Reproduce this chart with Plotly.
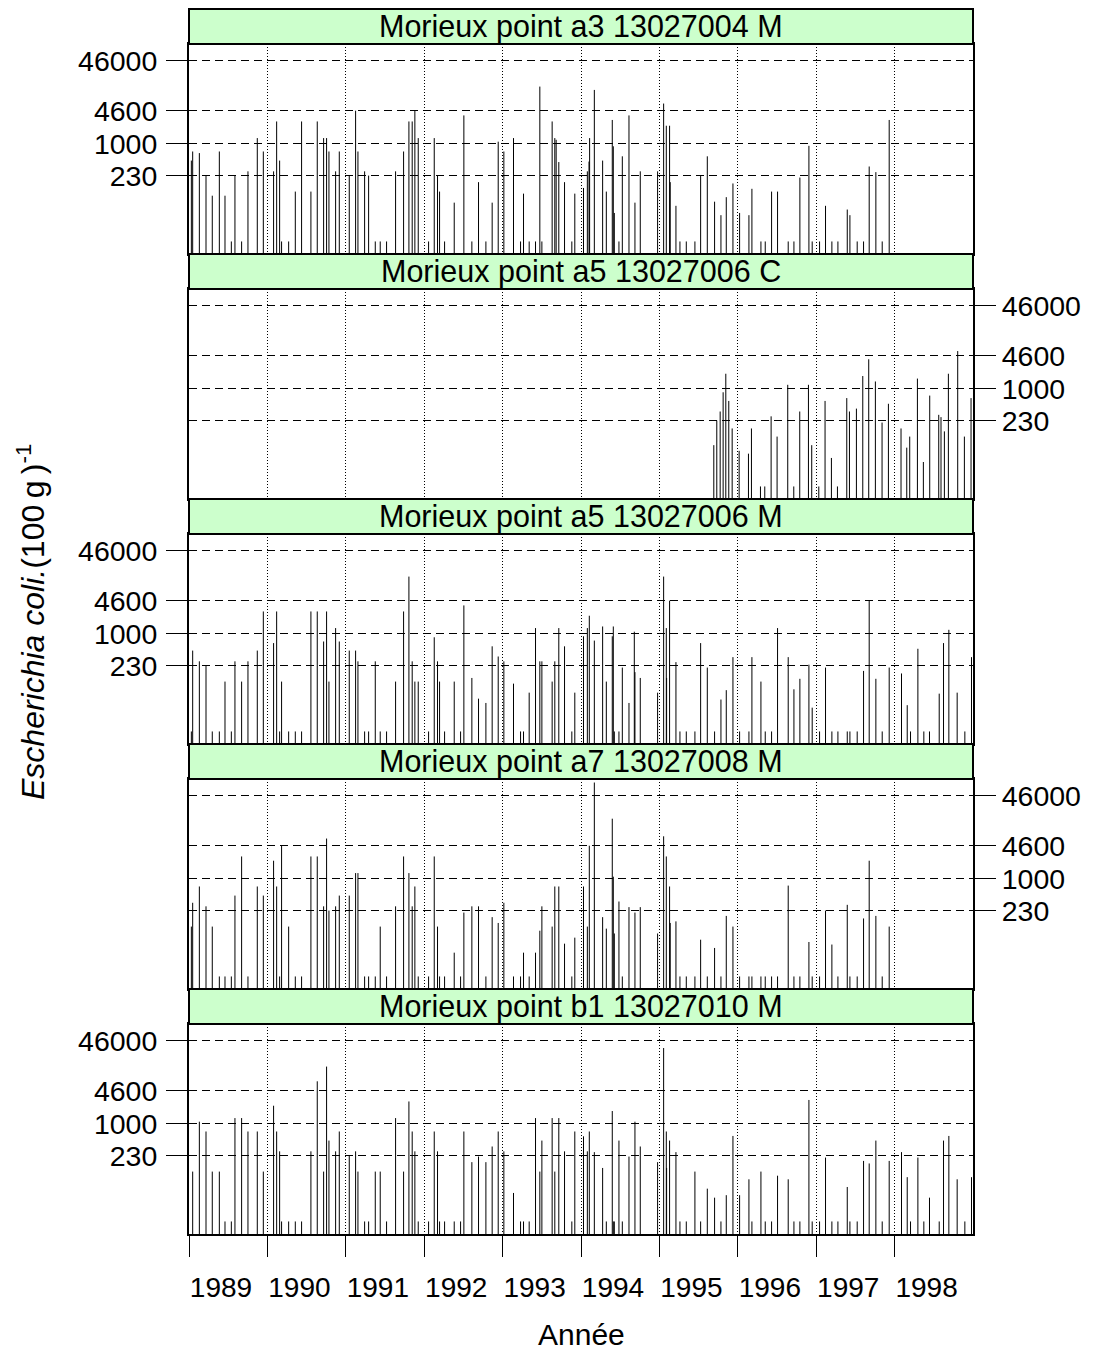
import plotly.graph_objects as go

FONT = "Liberation Sans, Arial, sans-serif"

panel_titles = [
    "Morieux point a3 13027004 M",
    "Morieux point a5 13027006 C",
    "Morieux point a5 13027006 M",
    "Morieux point a7 13027008 M",
    "Morieux point b1 13027010 M",
]
ytick_vals = [230, 1000, 4600, 46000]
ytick_text = ["230", "1000", "4600", "46000"]
year_ticks = list(range(1989, 1999))
year_labels = [str(y) for y in year_ticks]

# ---- panel 1 : a3 M ----
dates_a3_M = [
    1989.030, 1989.047, 1989.132, 1989.217, 1989.297, 1989.387, 1989.459, 1989.540, 1989.586, 1989.671, 1989.752, 1989.871, 1989.948,
    1990.079, 1990.118, 1990.156, 1990.181, 1990.271, 1990.356, 1990.436, 1990.555, 1990.636, 1990.717, 1990.755, 1990.785, 1990.870, 1990.917,
    1991.044, 1991.125, 1991.155, 1991.240, 1991.291, 1991.376, 1991.439, 1991.520, 1991.635, 1991.737, 1991.805, 1991.847, 1991.881, 1991.924,
    1992.056, 1992.128, 1992.170, 1992.196, 1992.260, 1992.383, 1992.506, 1992.608, 1992.693, 1992.787, 1992.867, 1992.944,
    1993.016, 1993.139, 1993.229, 1993.267, 1993.339, 1993.420, 1993.475, 1993.501, 1993.632, 1993.666, 1993.683, 1993.717, 1993.790, 1993.883, 1993.921,
    1994.032, 1994.081, 1994.102, 1994.110, 1994.170, 1994.276, 1994.323, 1994.399, 1994.412, 1994.425, 1994.484, 1994.527, 1994.612, 1994.688, 1994.756, 1994.977,
    1995.054, 1995.088, 1995.130, 1995.138, 1995.211, 1995.262, 1995.343, 1995.453, 1995.526, 1995.611, 1995.704, 1995.785, 1995.853, 1995.938,
    1996.023, 1996.142, 1996.180, 1996.295, 1996.350, 1996.431, 1996.507, 1996.643, 1996.716, 1996.792, 1996.907, 1996.949,
    1997.043, 1997.119, 1997.200, 1997.277, 1997.396, 1997.430, 1997.523, 1997.604, 1997.676, 1997.761, 1997.842, 1997.931,
]
ecoli_a3_M = [
    460, 700, 650, 230, 91, 700, 91, 11, 230, 11, 280, 1300, 700,
    280, 2800, 460, 11, 11, 110, 2800, 110, 2800, 1300, 1300, 700, 280, 700,
    230, 4600, 700, 280, 230, 11, 11, 11, 280, 700, 2800, 2800, 4600, 1300,
    11, 1300, 230, 110, 11, 66, 3700, 11, 170, 11, 66, 1100,
    700, 1300, 11, 100, 11, 11, 14000, 11, 2800, 1300, 1200, 430, 170, 11, 100,
    130, 280, 440, 1300, 12000, 460, 110, 3000, 890, 41, 11, 560, 3700, 66, 280, 280,
    6400, 2300, 2300, 170, 57, 11, 11, 11, 230, 560, 69, 37, 85, 160,
    41, 37, 125, 11, 11, 110, 110, 11, 11, 210, 910, 11,
    11, 57, 11, 11, 48, 37, 11, 11, 350, 270, 11, 3000,
]

# ---- panel 2 : a5 C ----
dates_a5_C = [
    1995.694, 1995.732, 1995.775, 1995.813, 1995.847, 1995.885, 1995.928,
    1996.017, 1996.136, 1996.174, 1996.289, 1996.344, 1996.425, 1996.501, 1996.637, 1996.714, 1996.790, 1996.901, 1996.943,
    1997.033, 1997.113, 1997.194, 1997.271, 1997.390, 1997.424, 1997.513, 1997.594, 1997.670, 1997.755, 1997.840, 1997.921,
    1998.082, 1998.155, 1998.193, 1998.291, 1998.367, 1998.448, 1998.563, 1998.592, 1998.635, 1998.686, 1998.805, 1998.890, 1998.975,
]
ecoli_a5_C = [
    74, 230, 350, 850, 2000, 570, 160,
    57, 50, 160, 11, 11, 280, 110, 1200, 11, 350, 1200, 74,
    11, 570, 41, 11, 650, 350, 400, 1800, 3900, 1400, 210, 500,
    160, 66, 110, 1600, 34, 730, 300, 270, 140, 2000, 5700, 110, 650,
]

# ---- panel 3 : a5 M ----
dates_a5_M = [
    1989.030, 1989.047, 1989.132, 1989.217, 1989.297, 1989.387, 1989.459, 1989.540, 1989.586, 1989.671, 1989.752, 1989.871, 1989.948,
    1990.079, 1990.118, 1990.156, 1990.181, 1990.271, 1990.356, 1990.436, 1990.555, 1990.636, 1990.717, 1990.755, 1990.785, 1990.870, 1990.917,
    1991.044, 1991.125, 1991.155, 1991.240, 1991.291, 1991.376, 1991.439, 1991.520, 1991.635, 1991.737, 1991.805, 1991.847, 1991.881, 1991.924,
    1992.056, 1992.128, 1992.170, 1992.196, 1992.260, 1992.383, 1992.464, 1992.506, 1992.608, 1992.693, 1992.787, 1992.867, 1992.944,
    1993.016, 1993.139, 1993.229, 1993.267, 1993.339, 1993.420, 1993.475, 1993.501, 1993.632, 1993.666, 1993.717, 1993.790, 1993.883, 1993.921,
    1994.032, 1994.081, 1994.106, 1994.170, 1994.276, 1994.323, 1994.399, 1994.412, 1994.425, 1994.484, 1994.527, 1994.612, 1994.680, 1994.688, 1994.756, 1994.977,
    1995.054, 1995.088, 1995.092, 1995.130, 1995.211, 1995.262, 1995.343, 1995.453, 1995.526, 1995.611, 1995.704, 1995.785, 1995.853, 1995.938,
    1996.023, 1996.142, 1996.180, 1996.295, 1996.350, 1996.431, 1996.507, 1996.643, 1996.716, 1996.792, 1996.907, 1996.949,
    1997.043, 1997.119, 1997.200, 1997.277, 1997.396, 1997.430, 1997.523, 1997.604, 1997.676, 1997.761, 1997.842, 1997.931,
    1998.088, 1998.161, 1998.203, 1998.297, 1998.373, 1998.445, 1998.569, 1998.624, 1998.692, 1998.798, 1998.896, 1998.981,
]
ecoli_a5_M = [
    11, 460, 280, 230, 11, 11, 110, 11, 280, 110, 280, 460, 2800,
    650, 2800, 11, 110, 11, 11, 11, 2800, 2800, 700, 2800, 110, 1300, 700,
    460, 460, 280, 11, 11, 280, 11, 11, 110, 2800, 14000, 280, 110, 110,
    11, 850, 280, 110, 11, 110, 11, 3700, 130, 50, 41, 560, 350,
    280, 100, 11, 11, 66, 1300, 280, 280, 110, 280, 1300, 560, 11, 66,
    890, 1300, 2300, 730, 1400, 110, 890, 1400, 11, 11, 210, 41, 1100, 170, 130, 66,
    14000, 1300, 130, 4600, 270, 11, 11, 11, 650, 210, 11, 48, 74, 340,
    11, 11, 340, 110, 11, 11, 1300, 340, 77, 125, 240, 33,
    11, 210, 11, 11, 11, 11, 11, 180, 4600, 125, 11, 210,
    160, 37, 11, 500, 11, 11, 63, 650, 1200, 66, 11, 340,
]

# ---- panel 4 : a7 M ----
dates_a7_M = [
    1989.030, 1989.047, 1989.132, 1989.217, 1989.297, 1989.387, 1989.459, 1989.540, 1989.586, 1989.671, 1989.752, 1989.871, 1989.948,
    1990.079, 1990.118, 1990.156, 1990.181, 1990.271, 1990.356, 1990.436, 1990.555, 1990.636, 1990.717, 1990.755, 1990.785, 1990.870, 1990.917,
    1991.044, 1991.125, 1991.155, 1991.240, 1991.291, 1991.376, 1991.439, 1991.520, 1991.635, 1991.737, 1991.805, 1991.847, 1991.881, 1991.924,
    1992.056, 1992.128, 1992.170, 1992.196, 1992.260, 1992.383, 1992.464, 1992.506, 1992.608, 1992.693, 1992.787, 1992.867, 1992.944,
    1993.016, 1993.139, 1993.229, 1993.267, 1993.339, 1993.420, 1993.475, 1993.501, 1993.632, 1993.666, 1993.717, 1993.790, 1993.883, 1993.921,
    1994.032, 1994.081, 1994.106, 1994.170, 1994.276, 1994.323, 1994.399, 1994.412, 1994.425, 1994.484, 1994.527, 1994.612, 1994.688, 1994.756, 1994.977,
    1995.054, 1995.088, 1995.130, 1995.138, 1995.211, 1995.262, 1995.343, 1995.453, 1995.526, 1995.611, 1995.704, 1995.785, 1995.853, 1995.938,
    1996.023, 1996.142, 1996.180, 1996.295, 1996.350, 1996.431, 1996.507, 1996.643, 1996.716, 1996.792, 1996.907, 1996.949,
    1997.043, 1997.119, 1997.200, 1997.277, 1997.396, 1997.430, 1997.523, 1997.604, 1997.676, 1997.761, 1997.842, 1997.931,
]
ecoli_a7_M = [
    110, 330, 700, 280, 110, 11, 11, 11, 460, 2800, 11, 700, 460,
    2300, 700, 11, 4600, 110, 11, 11, 2800, 2800, 280, 6400, 230, 280, 460,
    460, 1300, 1300, 11, 11, 11, 110, 11, 280, 2800, 1300, 280, 700, 11,
    11, 2800, 110, 11, 11, 33, 11, 210, 280, 280, 11, 170, 130,
    330, 11, 11, 33, 11, 33, 91, 280, 110, 700, 700, 50, 11, 66,
    700, 110, 4600, 85000, 170, 100, 16000, 1100, 80, 350, 11, 270, 210, 270, 80,
    7100, 2800, 700, 130, 140, 11, 11, 11, 60, 11, 41, 11, 180, 110,
    11, 11, 11, 11, 11, 11, 11, 730, 11, 11, 54, 11,
    11, 230, 48, 11, 300, 11, 11, 160, 2300, 180, 11, 110,
]

# ---- panel 5 : b1 M ----
dates_b1_M = [
    1989.047, 1989.132, 1989.217, 1989.297, 1989.387, 1989.459, 1989.540, 1989.586, 1989.671, 1989.752, 1989.871, 1989.948,
    1990.079, 1990.118, 1990.156, 1990.181, 1990.271, 1990.356, 1990.436, 1990.555, 1990.636, 1990.717, 1990.755, 1990.785, 1990.870, 1990.917,
    1991.044, 1991.125, 1991.155, 1991.240, 1991.291, 1991.376, 1991.439, 1991.520, 1991.635, 1991.737, 1991.805, 1991.847, 1991.881, 1991.924,
    1992.056, 1992.128, 1992.170, 1992.196, 1992.260, 1992.383, 1992.464, 1992.506, 1992.608, 1992.693, 1992.787, 1992.867, 1992.944,
    1993.016, 1993.139, 1993.229, 1993.267, 1993.339, 1993.420, 1993.475, 1993.501, 1993.632, 1993.666, 1993.717, 1993.790, 1993.883, 1993.921,
    1994.032, 1994.081, 1994.106, 1994.170, 1994.276, 1994.323, 1994.399, 1994.412, 1994.425, 1994.484, 1994.527, 1994.612, 1994.688, 1994.756, 1994.977,
    1995.054, 1995.088, 1995.092, 1995.130, 1995.211, 1995.262, 1995.343, 1995.453, 1995.526, 1995.611, 1995.704, 1995.785, 1995.853, 1995.938,
    1996.023, 1996.142, 1996.180, 1996.295, 1996.350, 1996.431, 1996.507, 1996.643, 1996.716, 1996.792, 1996.907, 1996.949,
    1997.043, 1997.119, 1997.200, 1997.277, 1997.396, 1997.430, 1997.523, 1997.604, 1997.676, 1997.761, 1997.842, 1997.931,
    1998.088, 1998.161, 1998.203, 1998.297, 1998.373, 1998.445, 1998.569, 1998.624, 1998.692, 1998.798, 1998.896, 1998.981,
]
ecoli_b1_M = [
    110, 1100, 700, 110, 110, 11, 11, 1300, 1300, 700, 700, 110,
    2300, 700, 280, 11, 11, 11, 11, 280, 7100, 110, 14000, 460, 280, 700,
    230, 280, 110, 11, 11, 110, 110, 11, 1300, 110, 2800, 700, 280, 11,
    11, 700, 280, 11, 11, 11, 11, 700, 170, 220, 170, 350, 700,
    280, 41, 11, 11, 11, 1300, 110, 460, 1300, 110, 1300, 280, 11, 700,
    560, 280, 700, 270, 130, 11, 1800, 11, 11, 460, 11, 220, 1100, 350, 170,
    33000, 700, 130, 460, 270, 11, 11, 110, 11, 50, 33, 11, 37, 570,
    37, 77, 11, 110, 11, 11, 91, 77, 11, 11, 3000, 11,
    11, 210, 11, 11, 54, 11, 11, 180, 160, 460, 11, 180,
    270, 85, 11, 210, 11, 33, 11, 460, 570, 77, 11, 85,
]

series = [
    (dates_a3_M, ecoli_a3_M),
    (dates_a5_C, ecoli_a5_C),
    (dates_a5_M, ecoli_a5_M),
    (dates_a7_M, ecoli_a7_M),
    (dates_b1_M, ecoli_b1_M),
]

# ---- layout geometry ----
# The page body has an 8px default margin, so the figure is drawn 8px in from
# the window's top-left corner; size it so it fits the 1108x1352 window.
OFF = 8
W, H = 1108 - OFF, 1352 - OFF
ML, MT = 189 - OFF, 9 - OFF
PW, PH = 784, 1225
MR = W - ML - PW
MB = H - MT - PH
PLOT_BOTTOM = MT + PH            # in figure pixels
BLOCK_PX, STRIP_PX = 245, 35
Y_LO, Y_HI = 0.79, 5.0
floor_val = 10 ** Y_LO


def frac(px):
    """pixel distance above the bottom of the plotting area -> paper fraction"""
    return min(1.0, max(0.0, round(px / PH, 6)))


def paper_y(page_y):
    return ((PLOT_BOTTOM + OFF) - page_y) / PH


def paper_x(page_x):
    return (page_x - OFF - ML) / PW


fig = go.Figure()
shapes = []
annotations = []
layout_axes = {}

for k, (d, v) in enumerate(series):
    sfx = "" if k == 0 else str(k + 1)
    xs, ys = [], []
    for di, vi in zip(d, v):
        xs += [di, di, None]
        ys += [floor_val, vi, None]
    fig.add_trace(go.Scatter(
        x=xs, y=ys, mode="lines",
        line=dict(color="black", width=1),
        xaxis="x" + sfx, yaxis="y" + sfx,
        hoverinfo="skip", showlegend=False,
    ))
    top_px = PH - k * BLOCK_PX
    dom = [frac(top_px - BLOCK_PX), frac(top_px - STRIP_PX)]
    last = (k == 4)
    left = (k % 2 == 0)
    xa = dict(
        domain=[0, 1], range=[1989, 1999], anchor="y" + sfx,
        tickmode="array", tickvals=year_ticks, ticktext=year_labels,
        showgrid=True, gridcolor="black", gridwidth=1, griddash="1px,2px",
        showline=True, mirror=True, linecolor="black", linewidth=2,
        zeroline=False,
        ticks="outside" if last else "", ticklen=21, tickwidth=1, tickcolor="black",
        showticklabels=last,
        tickfont=dict(family=FONT, size=28, color="black"),
        ticklabelshift=32 if last else 0,
        ticklabelstandoff=6 if last else 0,
    )
    if k > 0:
        xa["matches"] = "x"
    ya = dict(
        domain=dom, type="log", range=[Y_LO, Y_HI], anchor="x" + sfx,
        side="left" if left else "right",
        tickmode="array", tickvals=ytick_vals, ticktext=ytick_text,
        ticks="outside", ticklen=21, tickwidth=1, tickcolor="black",
        showgrid=True, gridcolor="black", gridwidth=1, griddash="8px,5px",
        showline=True, mirror=True, linecolor="black", linewidth=2,
        zeroline=False,
        tickfont=dict(family=FONT, size=28.5, color="black"),
        ticklabelstandoff=3 if left else 0,
    )
    layout_axes["xaxis" + sfx] = xa
    layout_axes["yaxis" + sfx] = ya

    shapes.append(dict(
        type="rect", xref="paper", yref="paper",
        x0=0, x1=1, y0=frac(top_px - STRIP_PX), y1=frac(top_px),
        fillcolor="#CCFFCC", line=dict(color="black", width=2), layer="above",
    ))
    annotations.append(dict(
        text=panel_titles[k], xref="paper", yref="paper",
        x=0.5, y=(top_px - STRIP_PX / 2) / PH, xanchor="center", yanchor="middle",
        showarrow=False, font=dict(family=FONT, size=30.5, color="black"),
    ))

annotations.append(dict(
    text="Année", xref="paper", yref="paper",
    x=0.5, y=paper_y(1334), xanchor="center", yanchor="middle",
    showarrow=False, font=dict(family=FONT, size=30, color="black"),
))
annotations.append(dict(
    text="<i>Escherichia coli.</i>(100\u2009g\u2009)<sup>-1</sup>",
    xref="paper", yref="paper",
    x=paper_x(31), y=paper_y(622),
    xanchor="center", yanchor="middle", textangle=-90,
    showarrow=False, font=dict(family=FONT, size=32, color="black"),
))

fig.update_layout(
    width=W, height=H,
    margin=dict(l=ML, r=MR, t=MT, b=MB, autoexpand=False),
    paper_bgcolor="white", plot_bgcolor="white",
    showlegend=False,
    shapes=shapes, annotations=annotations,
    **layout_axes,
)

fig.write_html("out.html")
